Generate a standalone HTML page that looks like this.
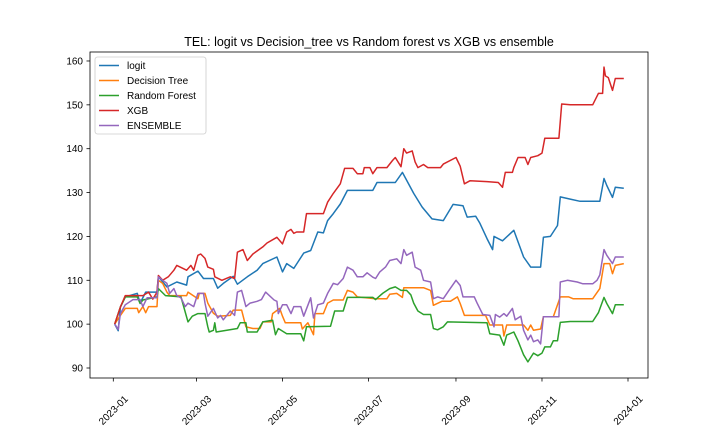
<!DOCTYPE html>
<html><head><meta charset="utf-8"><style>
html,body{margin:0;padding:0;background:#fff;}
svg{display:block;font-family:"Liberation Sans","DejaVu Sans",sans-serif;}
</style></head><body>
<svg id="chart" width="720" height="432" viewBox="0 0 720 432" xmlns="http://www.w3.org/2000/svg">
<rect x="0" y="0" width="720" height="432" fill="#fff"/>
<text x="369" y="46" text-anchor="middle" font-size="12.5" fill="#000">TEL: logit vs Decision_tree vs Random forest vs XGB vs ensemble</text>
<g id="axes"></g>
<g id="series"></g>
<rect x="90" y="52" width="558" height="326" fill="none" stroke="#000" stroke-width="0.8"/>
<g id="legend"></g>
</svg>
<script>
const yTicks=[90,100,110,120,130,140,150,160];
const xTickDays=[0,59,120,181,243,304,365];
const xTickLabels=["2023-01","2023-03","2023-05","2023-07","2023-09","2023-11","2024-01"];
const seriesNames=["logit","Decision Tree","Random Forest","XGB","ENSEMBLE"];
const seriesColors=["#1f77b4","#ff7f0e","#2ca02c","#d62728","#9467bd"];

const logitDays=[1,3.5,5,8.5,17,19,23,31,32,38,45,52,53,60,64,71,74,78,85,88,95,102,106,116,120,123,128,135,140,145,149,152,156,161,166,180,184,187,200,205,213,219,226,234,241,248,251,257,260,265,269,270,276,284,291,296,303,305,310,315,317,324,331,345,348,350,354,356,362];
const logitVals=[100,98.5,103.9,106.2,107,104.8,107.3,107.3,110.8,108.5,109.6,108.9,110.8,112.1,110.4,110.4,108.2,109.3,110.9,109.1,110.8,112.3,113.8,115.3,111.9,113.8,112.7,116.2,116.8,121,120.8,123.6,125.2,127.4,130.5,130.5,130.5,132.3,132.3,134.6,129.8,126.7,124,123.6,127.3,127,124.4,124.6,123,119.5,117,120,119,121.4,115.3,113,113,119.8,120,122.5,129,128.5,128,128,133.2,131.6,128.9,131.2,131];

const xgbDays=[1,5,8.5,21,25,28,31,32,35,39,43,45,52,55,57,60,62,65,67,71,72,77,83,86,88,92,95,99,106,109,116,120,123,126,128,130,135,137,149,152,156,161,164,170,173,177,178,182,184,187,194,198,200,204,206,208,212,214,216,220,223,232,234,243,246,249,253,265,273,276,278,283,284,287,292,294,296,301,304,306,316,318,324,340,344,347,348,349,351,354,356,362];
const xgbVals=[100,103.9,106.5,106.5,107.3,105.7,107.3,111.1,110,110.8,112.3,113.4,112.3,113.4,112.3,115.7,116,115,113,112.5,110.8,110,110.8,110.4,116.4,117,114.5,116,117.6,118.5,119.8,118.3,121,121.6,120.7,121,121,125.2,125.2,127.8,129.8,132,135.5,135.5,134.3,134.3,135.7,135.7,134.3,135.7,135.7,137.3,138,135.9,140,139,139.5,137,135.7,136.4,135.7,135.7,136.5,138,136,132,132.7,132.5,132.3,131.2,134.6,134.6,135.7,138,138,136.4,138,138.4,139,142.4,142.4,150.2,150,150,152.6,152.6,158.6,156.6,156.2,153.3,156,156];

const dtDays=[1,5,8.5,17,18,21,23,25,31,32,35,38,40,52,53,60,61,65,67,71,74,83,85,91,94,99,104,106,112,113,118,120,122,133,134,138,142,143,149,152,156,163,166,170,173,186,194,196,201,205,206,220,225,227,233,239,244,246,249,264,267,276,277,279,291,294,296,298,303,305,312,317,323,326,340,345,348,352,354,356,362];
const dtVals=[100,102,103.6,103.6,102.6,104,102.6,104,104,110,109.3,107.3,106.5,106.5,107.3,105.8,107,107,104.8,102.5,101.8,102,103.2,103.2,99.4,99,99,100.5,100.5,102.4,103.6,101.8,100.3,100.3,98.9,100.3,97.6,102.4,102.4,104.8,105.5,105.5,107.7,107.3,106.2,105.8,105.8,106.8,107,106.1,108.3,108.3,107.7,104.3,105.2,105.2,106.2,104.7,102,102,99.8,99.8,97.3,99.8,99.8,98.6,99.8,98.6,98.9,101.7,101.7,106.2,106.2,105.8,105.8,108.1,113.8,113.8,111.5,113.4,113.8];

const rfDays=[1,5,8.5,17,19,21,31,32,37,48,50,53,56,60,65,67,68,71,72,73,88,90,94,95,102,106,113,115,117,123,133,135,137,154,157,163,166,184,186,191,196,200,204,208,211,213,216,220,225,227,230,234,237,265,267,274,277,279,284,287,291,294,298,301,304,306,310,312,315,317,324,340,344,348,350,354,356,362];
const rfVals=[100,103.9,106.2,106.2,104.7,105.5,106.2,108.1,106.5,106.2,103.9,100.5,101.8,102.4,102.4,99.4,98.2,98.6,100.3,98.2,99,100.3,100.3,98.2,98.2,100.5,100.9,97.6,99,97.8,97.8,96.2,99.4,99.5,103,103,106.1,106.1,105.6,107,108.1,108.5,107.7,107.7,106.7,104.8,103,102.2,102.2,99,98.7,99.4,100.5,100.3,97.8,97.5,95.2,97.5,98.2,96.2,93,91.4,93.4,92.8,93.4,94.8,94.8,96.2,96.2,100.4,100.6,100.6,102.6,106.1,104.7,102.4,104.4,104.4];

const ensDays=[1,3.5,5,8.5,14,19,21,24,31,32,35,38,40,43,45,48,51,53,57,60,64,65,67,71,74,76,78,83,86,88,91,94,97,102,105,108,114,116,117,120,123,126,128,133,135,140,142,145,149,152,156,159,163,166,170,173,177,180,184,186,189,193,196,201,204,206,208,212,214,218,220,225,227,230,234,238,243,246,248,256,258,262,267,270,271,274,277,279,283,285,289,291,294,296,298,301,303,305,316,317,322,329,333,340,343,345,348,350,354,356,362];
const ensVals=[100,98.8,102.4,104.4,105.6,105.6,104,106,106,110.8,110,109.3,107,108.1,106.5,106,104,104.8,104,107,107,104.8,101.8,103.6,101.4,102,101,103,102,107.3,107.7,104,104.8,105.2,105.6,107.3,105.5,105.2,102.4,104.4,104.4,102.4,104,104,101.8,106,101.4,104.4,104.8,107,109.3,109,110.4,113,112.3,110.8,110.8,111.7,110.7,110.4,111.9,113,114.5,114.9,113.8,117,115.7,116.4,113,112.3,110,109.6,105.8,106.2,105.8,107.7,110,108.8,106.2,106.2,104.8,102.2,102,99.4,102.2,101.6,102.4,101.8,103.6,101,101.8,98.6,96.4,97.5,96,96.4,95.5,101.7,101.7,109.6,110,109.6,109.2,109.2,110,111.2,117,115.7,113.8,115.3,115.3];

const NS="http://www.w3.org/2000/svg";
function xScale(d){return 113.3+d*(628-113.3)/365;}
function yScale(v){return 368-(v-90)*4.386;}
function mk(tag,attrs,parent){const e=document.createElementNS(NS,tag);for(const k in attrs)e.setAttribute(k,attrs[k]);parent.appendChild(e);return e;}
const axes=document.getElementById('axes');
yTicks.forEach(v=>{
  const y=yScale(v);
  const t=mk('line',{x1:86.5,x2:90,y1:y,y2:y,stroke:'#000','stroke-width':0.8},axes);
  
  
  const l=mk('text',{x:83,y:y+3.5,'text-anchor':'end','font-size':10,fill:'#000'},axes);
  
  
  l.textContent=v;
});
xTickDays.forEach((d,i)=>{
  const x=xScale(d);
  const t=mk('line',{x1:x,x2:x,y1:378,y2:381.5,stroke:'#000','stroke-width':0.8},axes);
  
  
  const cy=410;
  const l=mk('text',{x:x,y:cy+3.5,'text-anchor':'middle','font-size':10,fill:'#000',transform:`rotate(-45 ${x} ${cy})`},axes);
  
  
  l.textContent=xTickLabels[i];
});
const sg=document.getElementById('series');
const allDays=[logitDays,dtDays,rfDays,xgbDays,ensDays];
const allVals=[logitVals,dtVals,rfVals,xgbVals,ensVals];
[0,1,2,3,4].forEach(i=>{
  const pts=allDays[i].map((d,j)=>xScale(d).toFixed(1)+','+yScale(allVals[i][j]).toFixed(1)).join(' ');
  const p=mk('polyline',{points:pts,fill:'none',stroke:seriesColors[i],'stroke-width':1.5,'stroke-linejoin':'round'},sg);
  
  
});
const lg=document.getElementById('legend');
const box=mk('rect',{x:95,y:57,width:111,height:77,rx:2.5,fill:'#fff','fill-opacity':0.8,stroke:'#ccc','stroke-width':0.8},lg);


seriesNames.forEach((n,i)=>{
  const y=65.5+i*15;
  const ln=mk('line',{x1:99,x2:119,y1:y,y2:y,stroke:seriesColors[i],'stroke-width':1.5},lg);
  
  
  const tx=mk('text',{x:127,y:y+3.5,'font-size':10,fill:'#000'},lg);
  
  
  tx.textContent=n;
});
</script>
</body></html>
